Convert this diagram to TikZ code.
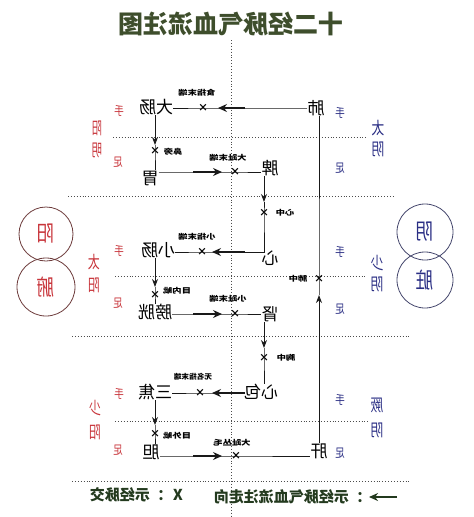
\documentclass[tikz,border=0pt]{standalone}
\usepackage{fontspec}
\usepackage{graphicx}
\setmainfont{Noto Sans CJK SC}
\usetikzlibrary{arrows.meta}
\newcommand{\mirr}[1]{\reflectbox{#1}}
\newcommand{\mirn}[2][0.75]{\scalebox{-#1}[1]{#2}}
\newcommand{\mirs}[1]{\scalebox{-1.1}[0.85]{#1}}
\definecolor{titlegreen}{RGB}{62,78,44}
\definecolor{yangred}{RGB}{200,52,58}
\definecolor{yinblue}{RGB}{42,46,132}
\definecolor{legendgreen}{RGB}{35,58,30}
\definecolor{ringred}{RGB}{110,60,60}
\definecolor{ringblue}{RGB}{70,72,110}
\begin{document}
\begin{tikzpicture}[x=1pt,y=-1pt,
  organ/.style={inner sep=0pt, font=\fontsize{17}{17}\selectfont},
  handfoot/.style={inner sep=0pt, font=\fontsize{12}{12}\selectfont},
  meridian/.style={inner sep=0pt, font=\fontsize{17}{17}\selectfont},
  smalllbl/.style={inner sep=0pt, font=\fontsize{8.5}{8.5}\selectfont\bfseries},
  xmark/.style={inner sep=0pt, font=\fontsize{10}{10}\selectfont\bfseries},
  flow/.style={line width=0.9pt, black!90},
  thickarrow/.style={line width=2.2pt, black!90, -{Stealth[length=9pt,width=8pt,inset=3pt]}},
  tiparrow/.style={line width=0.9pt, black!90, -{Stealth[length=8pt,width=6pt]}},
  gridline/.style={dotted, line width=0.9pt, black!70},
  ring/.style={circle, draw, line width=0.8pt, minimum size=56pt, inner sep=0pt, font=\fontsize{22}{22}\selectfont}
]
\useasboundingbox (0,0) rectangle (474,517);
\fill[white] (0,0) rectangle (474,517);

% title
\node[inner sep=0pt, text=titlegreen, font=\fontsize{25}{25}\selectfont\bfseries] (title) at (231,24) {\mirr{十二经脉气血流注图}};

% dotted grid
\draw[gridline] (231,40) -- (231,517);
\draw[gridline] (113,137) -- (367,137);
\draw[gridline] (68,196) -- (393,196);
\draw[gridline] (115,276) -- (367,276);
\draw[gridline] (72,336) -- (410,336);
\draw[gridline] (115,421) -- (370,421);
\draw[gridline] (72,481) -- (410,481);

% organs
\node[organ] (fei) at (316,108) {\mirr{肺}};
\node[organ] (dachang) at (156,107) {\mirr{大肠}};
\node[organ] (wei) at (150,178) {\mirr{胃}};
\node[organ] (pi) at (270,168) {\mirr{脾}};
\node[organ] (xin) at (270,258) {\mirr{心}};
\node[organ] (xiaochang) at (158,250) {\mirr{小肠}};
\node[organ] (pangguang) at (155,312) {\mirr{膀胱}};
\node[organ] (shen) at (270,314) {\mirr{肾}};
\node[organ] (xinbao) at (261,392) {\mirr{心包}};
\node[organ] (sanjiao) at (155,392) {\mirr{三焦}};
\node[organ] (dan) at (151,452) {\mirr{胆}};
\node[organ] (gan) at (319,451) {\mirr{肝}};

% crossing marks
\node[xmark] (x1) at (203,108) {×};
\node[xmark] (x2) at (155,151) {×};
\node[xmark] (x3) at (235,172) {×};
\node[xmark] (x4) at (264,213) {×};
\node[xmark] (x5) at (202,252) {×};
\node[xmark] (x6) at (155,295) {×};
\node[xmark] (x7) at (235,314) {×};
\node[xmark] (x8) at (264,358) {×};
\node[xmark] (x9) at (200,393) {×};
\node[xmark] (x10) at (155,434) {×};
\node[xmark] (x11) at (236,456) {×};
\node[xmark] (x12) at (319,279) {×};

% small labels
\node[smalllbl] (l1) at (197,93) {\mirs{食指末端}};
\node[smalllbl] (l2) at (173,152) {\mirs{鼻旁}};
\node[smalllbl] (l3) at (228,158) {\mirs{大趾末端}};
\node[smalllbl] (l4) at (285,213) {\mirs{心中}};
\node[smalllbl] (l5) at (197,237) {\mirs{小指末端}};
\node[smalllbl] (l6) at (177,291) {\mirs{目内眦}};
\node[smalllbl] (l7) at (228,299) {\mirs{小趾末端}};
\node[smalllbl] (l8) at (286,358) {\mirs{胸中}};
\node[smalllbl] (l9) at (298,279) {\mirs{肺中}};
\node[smalllbl] (l10) at (193,377) {\scalebox{-0.9}[0.85]{无名指末端}};
\node[smalllbl] (l11) at (177,436) {\mirs{目外眦}};
\node[smalllbl] (l12) at (232,443) {\mirs{大趾丛毛}};

% corner / arrow coordinates
\coordinate (c1) at (155,108);
\coordinate (a1s) at (245,108);  \coordinate (a1e) at (218,108);
\coordinate (a2) at (155,145);
\coordinate (a3s) at (193,172);  \coordinate (a3e) at (222,172);
\coordinate (a4) at (264,202);
\coordinate (c4) at (264,252);
\coordinate (a5s) at (245,252);  \coordinate (a5e) at (212,252);
\coordinate (a6) at (155,287);
\coordinate (a7s) at (193,314);  \coordinate (a7e) at (222,314);
\coordinate (a8) at (264,348);
\coordinate (a9s) at (245,393);  \coordinate (a9e) at (212,393);
\coordinate (a10) at (155,425);
\coordinate (a11s) at (193,456); \coordinate (a11e) at (222,456);
\coordinate (a12) at (319,295);

% flow connectors
\draw[flow] (fei.west |- x1) -- (x1.center) -- (dachang.east |- x1);
\draw[thickarrow] (a1s) -- (a1e);
\draw[tiparrow] (dachang.south -| c1) -- (a2);
\draw[flow] (a2) -- (x2.center) -- (wei.north -| x2);
\draw[flow] (wei.east |- x3) -- (x3.center) -- (pi.west |- x3);
\draw[thickarrow] (a3s) -- (a3e);
\draw[tiparrow] (pi.south -| a4) -- (a4);
\draw[flow] (a4) -- (x4.center) -- (c4) -- (x5.center) -- (xiaochang.east |- x5);
\draw[thickarrow] (a5s) -- (a5e);
\draw[tiparrow] (xiaochang.south -| a6) -- (a6);
\draw[flow] (a6) -- (x6.center) -- (pangguang.north -| x6);
\draw[flow] (pangguang.east |- x7) -- (x7.center) -- (shen.west |- x7);
\draw[thickarrow] (a7s) -- (a7e);
\draw[tiparrow] (shen.south -| a8) -- (a8);
\draw[flow] (a8) -- (x8.center) -- (xinbao.north -| x8);
\draw[flow] (xinbao.west |- x9) -- (x9.center) -- (sanjiao.east |- x9);
\draw[thickarrow] (a9s) -- (a9e);
\draw[tiparrow] (sanjiao.south -| a10) -- (a10);
\draw[flow] (a10) -- (x10.center) -- (dan.north -| x10);
\draw[flow] (dan.east |- x11) -- (x11.center) -- (gan.west |- x11);
\draw[thickarrow] (a11s) -- (a11e);
\draw[tiparrow] (gan.north -| a12) -- (a12);
\draw[flow] (a12) -- (x12.center) -- (fei.south -| x12);

% right side (yin) labels
\begin{scope}[text=yinblue]
\node[handfoot] (rh1) at (340,113) {\mirn[0.8]{手}};
\node[handfoot] (rf1) at (340,168) {\mirn[0.8]{足}};
\node[meridian] (rm1a) at (378,128) {\mirn{太}};
\node[meridian] (rm1b) at (378,149) {\mirn{阴}};
\node[handfoot] (rh2) at (340,252) {\mirn[0.8]{手}};
\node[handfoot] (rf2) at (340,309) {\mirn[0.8]{足}};
\node[meridian] (rm2a) at (377,263) {\mirn{少}};
\node[meridian] (rm2b) at (377,284) {\mirn{阴}};
\node[handfoot] (rh3) at (340,400) {\mirn[0.8]{手}};
\node[handfoot] (rf3) at (340,453) {\mirn[0.8]{足}};
\node[meridian] (rm3a) at (377,405) {\mirn{厥}};
\node[meridian] (rm3b) at (377,430) {\mirn{阴}};
\end{scope}

% left side (yang) labels
\begin{scope}[text=yangred]
\node[handfoot] (lh1) at (119,111) {\mirn[0.8]{手}};
\node[handfoot] (lf1) at (118,162) {\mirn[0.8]{足}};
\node[meridian] (lm1a) at (97,128) {\mirn[0.6]{阳}};
\node[meridian] (lm1b) at (97,150) {\mirn[0.6]{明}};
\node[handfoot] (lh2) at (119,251) {\mirn[0.8]{手}};
\node[handfoot] (lf2) at (118,303) {\mirn[0.8]{足}};
\node[meridian] (lm2a) at (94,262) {\mirn[0.7]{太}};
\node[meridian] (lm2b) at (94,285) {\mirn[0.7]{阳}};
\node[handfoot] (lh3) at (119,394) {\mirn[0.8]{手}};
\node[handfoot] (lf3) at (118,450) {\mirn[0.8]{足}};
\node[meridian] (lm3a) at (95,408) {\mirn[0.7]{少}};
\node[meridian] (lm3b) at (95,432) {\mirn[0.7]{阳}};
\end{scope}

% circles
\node[ring, draw=ringred, text=yangred, minimum size=54pt] (yang) at (46,234) {\mirn[0.8]{阳}};
\node[ring, draw=ringred, text=yangred, minimum size=58pt] (fu) at (46,287) {\mirn[0.8]{腑}};
\node[ring, draw=ringblue, text=yinblue] (yin) at (425,232) {\mirn[0.8]{阴}};
\node[ring, draw=ringblue, text=yinblue] (zang) at (425,280) {\mirn[0.8]{脏}};

% legend
\node[inner sep=0pt, anchor=east, text=legendgreen, font=\fontsize{15}{15}\selectfont\bfseries] (leg1) at (183,495) {\mirr{X\hspace{8pt}：示经脉交}};
\coordinate (la1) at (397,497);
\coordinate (la2) at (369,497);
\draw[line width=1.8pt, legendgreen, -{Stealth[length=9pt,width=8pt]}] (la1) -- (la2);
\node[inner sep=0pt, anchor=east, text=legendgreen, font=\fontsize{15}{15}\selectfont\bfseries] (leg2) at (364,497) {\mirr{：示经脉气血流注走向}};
\end{tikzpicture}
\end{document}
